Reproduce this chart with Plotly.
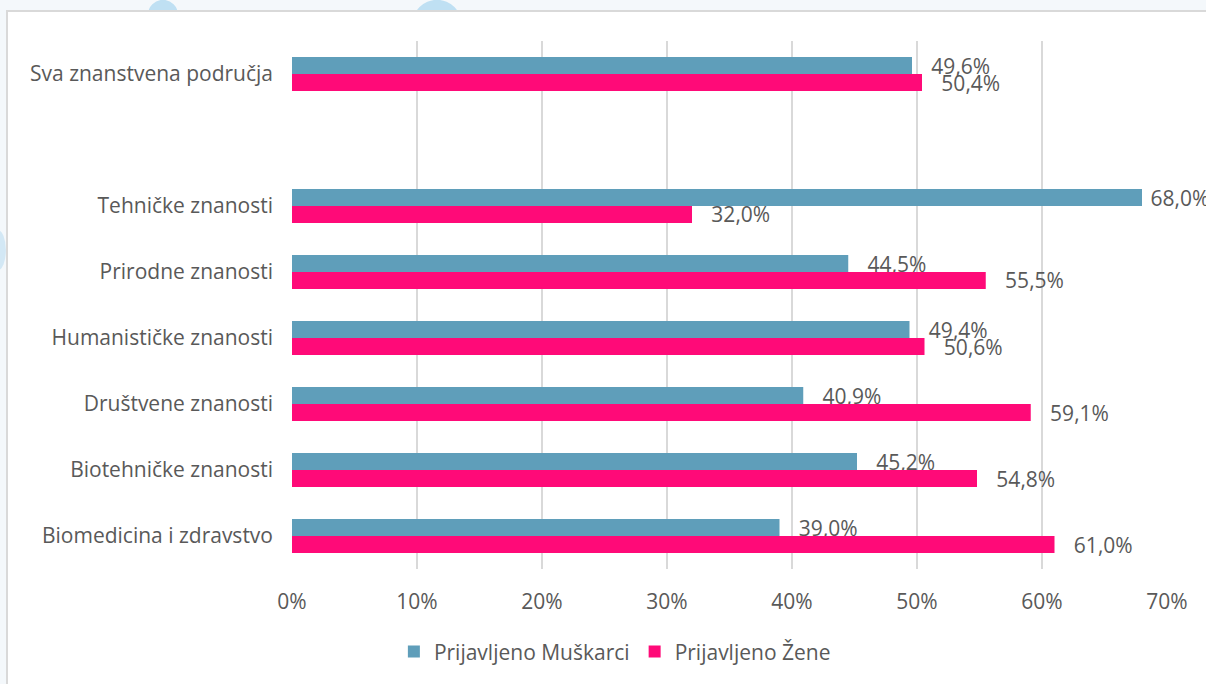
import plotly.graph_objects as go

# categories from top to bottom; " " is the empty spacer row
categories = [
    "Sva znanstvena područja",
    " ",
    "Tehničke znanosti",
    "Prirodne znanosti",
    "Humanističke znanosti",
    "Društvene znanosti",
    "Biotehničke znanosti",
    "Biomedicina i zdravstvo",
]
muskarci = [49.6, None, 68.0, 44.5, 49.4, 40.9, 45.2, 39.0]
zene = [50.4, None, 32.0, 55.5, 50.6, 59.1, 54.8, 61.0]
x_ticks = [0, 10, 20, 30, 40, 50, 60, 70]

BLUE = "#5f9eba"
PINK = "#ff0a78"
TEXT = "#595959"
FONT = "Open Sans"
SIZE = 21


def labels(values):
    out = []
    for v in values:
        if v is None:
            out.append("")
        elif v > 65:
            # excel pulls the label in when it hits the edge
            out.append(" " + f"{v:.1f}%".replace(".", ","))
        else:
            out.append("   " + f"{v:.1f}%".replace(".", ","))
    return out


fig = go.Figure()
for name, values, color in [
    ("Prijavljeno Muškarci", muskarci, BLUE),
    ("Prijavljeno Žene", zene, PINK),
]:
    fig.add_trace(
        go.Bar(
            name=name,
            y=categories,
            x=values,
            orientation="h",
            marker=dict(color=color, line=dict(width=0)),
            text=labels(values),
            textposition="outside",
            textfont=dict(family=FONT, size=SIZE, color=TEXT),
            constraintext="none",
            cliponaxis=False,
        )
    )

# frame and faint decorative blobs behind the chart
shapes = [
    dict(type="circle", xref="paper", yref="paper", layer="below",
         x0=-0.1646, x1=-0.1303, y0=1.021, y1=1.078,
         fillcolor="#bfe0f3", line_width=0),
    dict(type="circle", xref="paper", yref="paper", layer="below",
         x0=0.1371, x1=0.1943, y0=0.983, y1=1.078,
         fillcolor="#bfe0f3", line_width=0),
    dict(type="circle", xref="paper", yref="paper", layer="below",
         x0=-0.345, x1=-0.327, y0=0.566, y1=0.642,
         fillcolor="#d3e8f5", line_width=0),
    dict(type="rect", xref="paper", yref="paper", layer="below",
         x0=-0.3257, x1=1.1, y0=-0.3, y1=1.0568,
         fillcolor="white", line=dict(color="#d9d9d9", width=2)),
]

fig.update_layout(
    width=1206,
    height=684,
    margin=dict(l=292, r=39, t=41, b=115),
    paper_bgcolor="#f4f8fb",
    plot_bgcolor="rgba(0,0,0,0)",
    barmode="group",
    bargap=0.485,
    bargroupgap=0,
    font=dict(family=FONT, size=SIZE, color=TEXT),
    shapes=shapes,
    showlegend=True,
    legend=dict(
        orientation="h",
        x=0.369,
        xanchor="center",
        y=-0.157,
        yanchor="middle",
        font=dict(family=FONT, size=SIZE, color=TEXT),
        bgcolor="rgba(0,0,0,0)",
        itemwidth=30,
    ),
    xaxis=dict(
        range=[0, 70],
        tickvals=x_ticks,
        ticktext=[f"{t}%" for t in x_ticks],
        showgrid=True,
        gridcolor="#d9d9d9",
        gridwidth=1.5,
        zeroline=False,
        showline=False,
        ticks="",
        ticklabelstandoff=18,
        tickfont=dict(family=FONT, size=SIZE, color=TEXT),
        fixedrange=True,
    ),
    yaxis=dict(
        type="category",
        categoryorder="array",
        categoryarray=categories,
        autorange="reversed",
        showgrid=False,
        zeroline=False,
        showline=False,
        ticks="",
        ticklabelstandoff=18,
        tickfont=dict(family=FONT, size=SIZE, color=TEXT),
        fixedrange=True,
    ),
)

fig.write_html(
    "out.html",
    config={"displayModeBar": False},
    post_script="document.body.style.margin='0';",
)
